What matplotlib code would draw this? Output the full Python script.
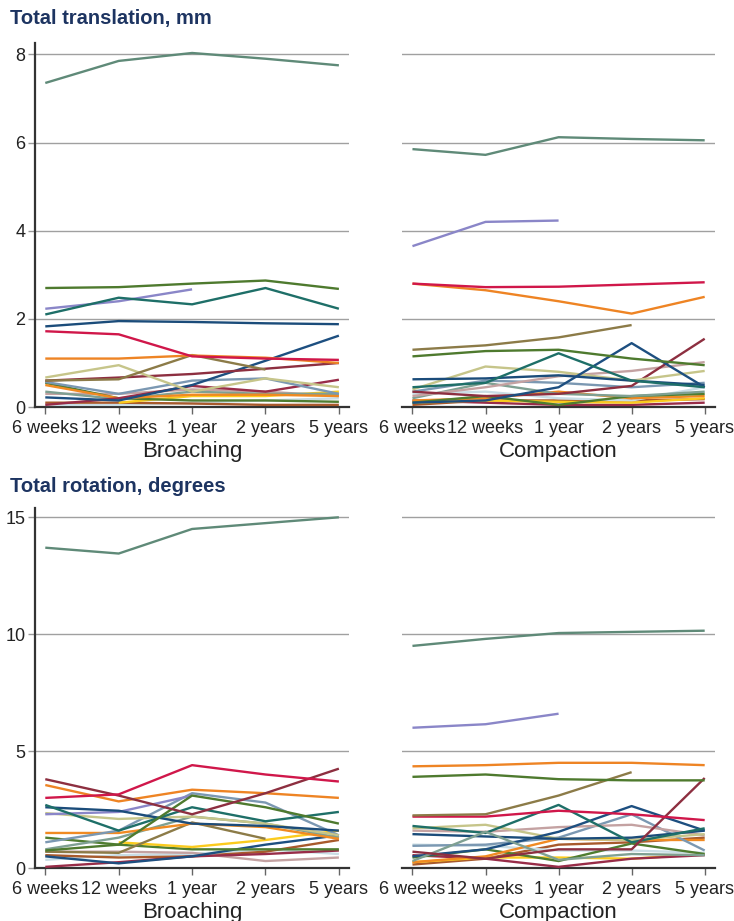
import matplotlib.pyplot as plt

plt.rcParams['font.family'] = ['Liberation Sans', 'DejaVu Sans']

visits = ['6 weeks', '12 weeks', '1 year', '2 years', '5 years']
groups = ['Broaching', 'Compaction']
N = None

colors = {
    'sage': '#5f8a78', 'lavender': '#8a86c8', 'dgreen': '#4e7a2e', 'teal': '#1e6f68',
    'navy': '#1b4c7a', 'crimson': '#d0174a', 'orange': '#ee8424', 'olive': '#8c7b48',
    'khaki': '#c6c58a', 'maroon': '#8d2f40', 'navy2': '#1d4f80', 'steel': '#7b98b2',
    'maroon2': '#982c48', 'orange2': '#f08a22', 'gray': '#7fa092', 'yellow': '#fbcb1e',
    'lblue': '#c9dde5', 'pink': '#c4a2a2', 'dgreen2': '#4f7d30', 'brown': '#a85a2c',
}

# translation, mm - broaching
trans_broach = {
    'lblue':    [0.05, 0.05, 0.10, 0.15, 0.20],
    'brown':    [0.10, 0.10, 0.08, 0.05, 0.05],
    'yellow':   [N, 0.10, 0.25, 0.25, 0.35],
    'pink':     [0.30, 0.30, 0.40, 0.35, 0.25],
    'dgreen2':  [0.55, 0.20, 0.15, 0.15, 0.12],
    'gray':     [0.35, 0.18, 0.35, 0.30, 0.30],
    'orange2':  [0.50, 0.20, 0.28, 0.28, 0.25],
    'maroon2':  [0.05, 0.20, 0.48, 0.35, 0.62],
    'steel':    [0.57, 0.30, 0.60, 0.65, 0.30],
    'navy2':    [0.22, 0.15, 0.50, 1.05, 1.62],
    'maroon':   [0.60, 0.67, 0.75, 0.87, 1.00],
    'khaki':    [0.67, 0.95, 0.35, 0.65, 0.45],
    'olive':    [0.60, 0.63, 1.18, 0.85, N],
    'orange':   [1.10, 1.10, 1.17, 1.12, 1.00],
    'crimson':  [1.72, 1.65, 1.15, 1.10, 1.07],
    'navy':     [1.83, 1.95, 1.93, 1.90, 1.88],
    'lavender': [2.23, 2.40, 2.67, N, N],
    'teal':     [2.10, 2.48, 2.33, 2.70, 2.23],
    'dgreen':   [2.70, 2.72, 2.80, 2.87, 2.68],
    'sage':     [7.35, 7.85, 8.03, 7.90, 7.75],
}

# translation, mm - compaction
trans_compact = {
    'brown':    [0.05, 0.15, 0.15, 0.15, 0.18],
    'maroon2':  [0.15, 0.10, 0.05, 0.05, 0.10],
    'lblue':    [0.30, 0.35, 0.20, 0.15, 0.45],
    'yellow':   [0.10, 0.15, 0.12, 0.10, 0.20],
    'orange2':  [0.15, 0.20, 0.35, 0.20, 0.25],
    'dgreen2':  [0.10, 0.25, 0.05, 0.25, 0.30],
    'gray':     [0.20, 0.55, 0.30, 0.25, 0.35],
    'steel':    [0.35, 0.60, 0.55, 0.45, 0.55],
    'pink':     [0.25, 0.45, 0.70, 0.82, 1.02],
    'maroon':   [0.35, 0.25, 0.30, 0.48, 1.55],
    'khaki':    [0.40, 0.92, 0.80, 0.60, 0.82],
    'navy':     [0.63, 0.65, 0.72, 0.60, 0.50],
    'navy2':    [0.10, 0.15, 0.45, 1.45, 0.45],
    'teal':     [0.45, 0.55, 1.22, 0.60, 0.45],
    'dgreen':   [1.15, 1.27, 1.30, 1.10, 0.95],
    'olive':    [1.30, 1.40, 1.58, 1.86, N],
    'orange':   [2.80, 2.65, 2.40, 2.12, 2.50],
    'crimson':  [2.80, 2.72, 2.73, 2.78, 2.83],
    'lavender': [3.65, 4.20, 4.23, N, N],
    'sage':     [5.85, 5.72, 6.12, 6.08, 6.05],
}

# rotation, degrees - broaching
rot_broach = {
    'lblue':    [0.35, 0.55, 0.60, 0.80, 0.60],
    'brown':    [0.55, 0.45, 0.50, 0.70, 1.20],
    'pink':     [0.70, 0.70, 0.65, 0.30, 0.45],
    'maroon2':  [0.05, 0.25, 0.50, 0.60, 0.75],
    'navy2':    [0.50, 0.20, 0.50, 1.00, 1.40],
    'dgreen2':  [1.30, 1.00, 0.80, 0.80, 0.80],
    'yellow':   [N, 1.10, 0.90, 1.20, 1.60],
    'olive':    [0.70, 0.65, 1.95, 1.25, N],
    'gray':     [0.80, 1.30, 2.20, 1.90, 1.30],
    'orange2':  [1.50, 1.50, 1.90, 1.75, 1.25],
    'steel':    [1.10, 1.60, 3.20, 2.80, 1.40],
    'khaki':    [2.35, 2.10, 2.20, 1.90, 1.40],
    'lavender': [2.30, 2.40, 3.10, N, N],
    'navy':     [2.60, 2.45, 1.90, 1.80, 1.60],
    'teal':     [2.70, 1.60, 2.60, 2.00, 2.40],
    'dgreen':   [0.75, 1.00, 3.10, 2.60, 1.90],
    'orange':   [3.55, 2.85, 3.35, 3.20, 3.00],
    'maroon':   [3.80, 3.10, 2.30, 3.20, 4.25],
    'crimson':  [3.00, 3.15, 4.40, 4.00, 3.70],
    'sage':     [13.70, 13.45, 14.50, 14.75, 15.00],
}

# rotation, degrees - compaction
rot_compact = {
    'brown':    [0.15, 0.40, 1.00, 1.10, 1.30],
    'yellow':   [0.25, 0.45, 0.45, 0.40, 0.60],
    'maroon2':  [0.55, 0.40, 0.05, 0.40, 0.55],
    'lblue':    [1.00, 0.95, 0.75, 0.75, 0.65],
    'dgreen2':  [0.45, 0.80, 0.30, 1.05, 0.60],
    'orange2':  [0.25, 0.50, 1.25, 1.20, 1.20],
    'steel':    [0.95, 1.00, 1.30, 2.30, 0.75],
    'pink':     [1.60, 1.55, 1.75, 1.85, 1.40],
    'khaki':    [1.70, 1.85, 1.25, 1.20, 1.45],
    'navy':     [1.45, 1.35, 1.25, 1.30, 1.60],
    'navy2':    [0.50, 0.80, 1.55, 2.65, 1.60],
    'teal':     [1.80, 1.50, 2.70, 1.10, 1.70],
    'gray':     [0.30, 1.55, 0.35, 0.60, 0.55],
    'maroon':   [0.70, 0.40, 0.80, 0.80, 3.85],
    'crimson':  [2.20, 2.20, 2.45, 2.30, 2.05],
    'olive':    [2.25, 2.30, 3.10, 4.10, N],
    'dgreen':   [3.90, 4.00, 3.80, 3.75, 3.75],
    'orange':   [4.35, 4.40, 4.50, 4.50, 4.40],
    'lavender': [6.00, 6.15, 6.60, N, N],
    'sage':     [9.50, 9.80, 10.05, 10.10, 10.15],
}

title_color = '#1d3461'
text_color = '#222222'

fig = plt.figure(figsize=(7.34, 9.21), dpi=100)

panels = [
    (trans_broach, [0.0477, 0.558, 0.428, 0.395], (0, 8.25), [0, 2, 4, 6, 8], True, 0),
    (trans_compact, [0.548, 0.558, 0.426, 0.395], (0, 8.25), [0, 2, 4, 6, 8], False, 1),
    (rot_broach, [0.0477, 0.0575, 0.428, 0.391], (0, 15.4), [0, 5, 10, 15], True, 0),
    (rot_compact, [0.548, 0.0575, 0.426, 0.391], (0, 15.4), [0, 5, 10, 15], False, 1),
]

for data, rect, ylim, yticks, show_y, g in panels:
    ax = fig.add_axes(rect)
    x = list(range(len(visits)))
    for key, vals in data.items():
        xs = [i for i, v in zip(x, vals) if v is not None]
        ys = [v for v in vals if v is not None]
        ax.plot(xs, ys, color=colors[key], lw=1.7, solid_capstyle='butt', zorder=3)
    ax.set_xlim(-0.14, 4.14)
    ax.set_ylim(*ylim)
    ax.set_yticks(yticks)
    ax.set_xticks(x)
    ax.set_xticklabels(visits, fontsize=13, color=text_color)
    ax.grid(axis='y', color='#a0a0a0', lw=1.0, zorder=1)
    ax.set_axisbelow(True)
    for s in ['top', 'right']:
        ax.spines[s].set_visible(False)
    ax.spines['bottom'].set_color('#333333')
    ax.spines['bottom'].set_linewidth(1.6)
    ax.tick_params(axis='x', length=5, width=1, color='#666666', pad=4)
    if show_y:
        ax.spines['left'].set_color('#333333')
        ax.spines['left'].set_linewidth(1.6)
        ax.tick_params(axis='y', length=5, width=1, color='#999999', labelsize=13,
                       labelcolor=text_color, pad=2)
    else:
        ax.spines['left'].set_visible(False)
        ax.tick_params(axis='y', length=0, labelleft=False)
    ax.set_xlabel(groups[g], fontsize=16, color=text_color, labelpad=3)

fig.text(0.014, 0.980, 'Total translation, mm', fontsize=14.5, fontweight='bold',
         color=title_color, va='center', ha='left')
fig.text(0.014, 0.472, 'Total rotation, degrees', fontsize=14.5, fontweight='bold',
         color=title_color, va='center', ha='left')

fig.savefig('out.png', dpi=100)
